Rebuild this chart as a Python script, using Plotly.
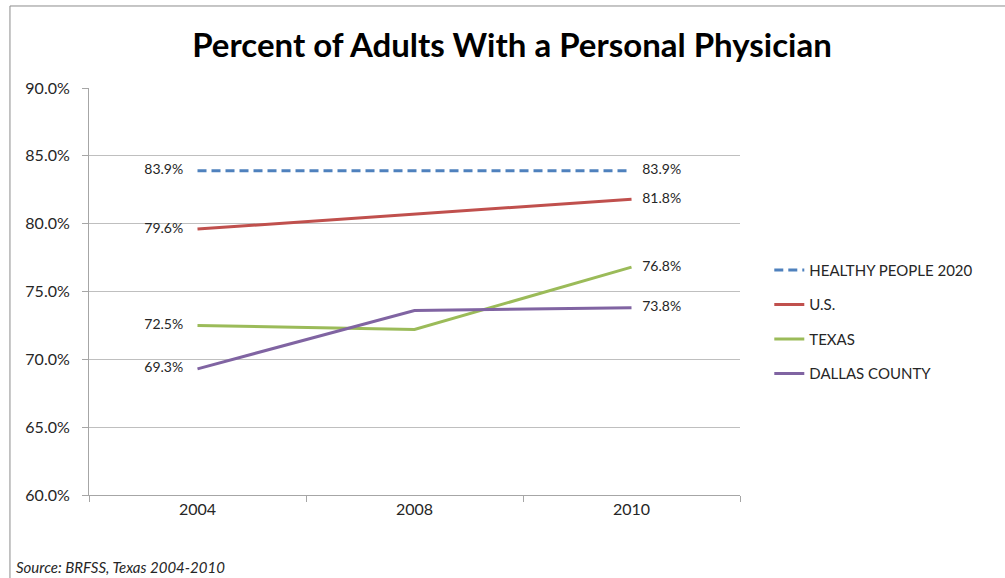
import plotly.graph_objects as go

YEARS = ["2004", "2008", "2010"]
SERIES_NAMES = ["HEALTHY PEOPLE 2020", "U.S.", "TEXAS", "DALLAS COUNTY"]
HEALTHY_PEOPLE_2020 = [83.9, 83.9, 83.9]
US = [79.6, 80.7, 81.8]
TEXAS = [72.5, 72.2, 76.8]
DALLAS_COUNTY = [69.3, 73.6, 73.8]
Y_TICKS = [60, 65, 70, 75, 80, 85, 90]

SERIES_STYLE = {
    "HEALTHY PEOPLE 2020": dict(color="#4F81BD", dash="9px,5px"),
    "U.S.": dict(color="#C0504D", dash="solid"),
    "TEXAS": dict(color="#9BBB59", dash="solid"),
    "DALLAS COUNTY": dict(color="#8064A2", dash="solid"),
}

FONT = "Lato, 'Open Sans', sans-serif"
TEXT_COLOR = "#262626"


def end_labels(values):
    # Excel-style: label only first and last points
    return [f"{values[0]:.1f}%    "] + [""] * (len(values) - 2) + [f"   {values[-1]:.1f}%"]


fig = go.Figure()

for name, values in zip(SERIES_NAMES, [HEALTHY_PEOPLE_2020, US, TEXAS, DALLAS_COUNTY]):
    style = SERIES_STYLE[name]
    fig.add_trace(
        go.Scatter(
            x=YEARS,
            y=values,
            name=name,
            legendgroup=name,
            mode="lines+text",
            line=dict(color=style["color"], width=3, dash=style["dash"]),
            text=end_labels(values),
            textposition=["middle left", "middle center", "middle right"],
            textfont=dict(family=FONT, size=14, color=TEXT_COLOR),
            cliponaxis=False,
            hoverinfo="x+y+name",
        )
    )

fig.update_layout(
    width=1005,
    height=578,
    paper_bgcolor="white",
    plot_bgcolor="white",
    margin=dict(l=89, r=265, t=88, b=83),
    font=dict(family=FONT, color=TEXT_COLOR),
    title=dict(
        text="<b>Percent of Adults With a Personal Physician</b>",
        x=0.5095,
        xanchor="center",
        y=0.922,
        yanchor="middle",
        font=dict(family=FONT, size=33, color="black"),
    ),
    legend=dict(
        x=1.045,
        xanchor="left",
        y=0.593,
        yanchor="top",
        traceorder="grouped",
        tracegroupgap=12,
        font=dict(family=FONT, size=15, color=TEXT_COLOR),
        bgcolor="rgba(0,0,0,0)",
    ),
    showlegend=True,
)

fig.update_xaxes(
    type="category",
    range=[-0.5, 2.5],
    tickson="boundaries",
    ticks="outside",
    ticklen=6,
    tickcolor="#A6A6A6",
    showgrid=False,
    showline=True,
    linecolor="#A6A6A6",
    linewidth=1,
    tickfont=dict(family=FONT, size=16, color=TEXT_COLOR),
)

fig.update_yaxes(
    range=[60, 90],
    tickvals=Y_TICKS,
    ticktext=[f"{v:.1f}%" for v in Y_TICKS],
    ticks="outside",
    ticklen=6,
    ticklabelstandoff=9,
    tickcolor="#A6A6A6",
    showgrid=True,
    gridcolor="#BFBFBF",
    gridwidth=1,
    showline=True,
    linecolor="#A6A6A6",
    linewidth=1,
    zeroline=False,
    tickfont=dict(family=FONT, size=16, color=TEXT_COLOR),
)

# outer chart border: only the left and top edges are in view
fig.add_shape(
    type="line",
    xref="paper",
    yref="paper",
    x0=-0.1214,
    x1=-0.1214,
    y0=-0.3,
    y1=1.2015,
    line=dict(color="#8C8C8C", width=1),
    layer="below",
)
fig.add_shape(
    type="line",
    xref="paper",
    yref="paper",
    x0=-0.1214,
    x1=1.5,
    y0=1.2015,
    y1=1.2015,
    line=dict(color="#8C8C8C", width=1),
    layer="below",
)

fig.add_annotation(
    text="<i>Source: BRFSS, Texas 2004-2010</i>",
    xref="paper",
    yref="paper",
    x=-0.1152,
    xanchor="left",
    y=-0.177,
    yanchor="middle",
    showarrow=False,
    font=dict(family=FONT, size=15, color=TEXT_COLOR),
)

# drop the default page margin so the figure fills the window exactly
fig.write_html(
    "out.html",
    config={"displayModeBar": False},
    post_script="document.body.style.margin='0';document.body.style.overflow='hidden';",
)
